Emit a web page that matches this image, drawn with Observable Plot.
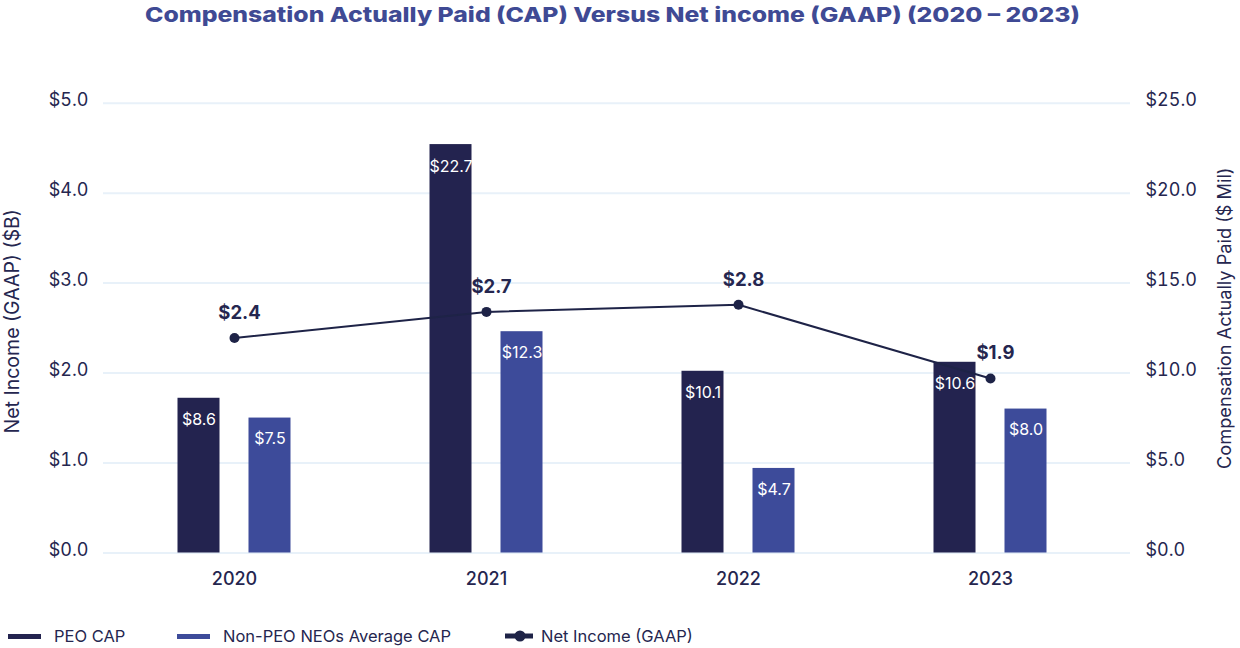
<!DOCTYPE html>
<html>
<head>
<meta charset="utf-8">
<script src="https://cdn.jsdelivr.net/npm/d3@7"></script>
<script src="https://cdn.jsdelivr.net/npm/@observablehq/plot@0.6"></script>
<style>
  html, body { margin: 0; padding: 0; background: #fff; }
  body { width: 1240px; height: 648px; position: relative; overflow: hidden; font-family: Inter, "Noto Sans", sans-serif; }
  #title { position: absolute; left: 145px; top: 0; height: 32px; line-height: 30px; white-space: nowrap;
           font-size: 20.5px; font-weight: 800; color: #3f4a94; transform-origin: 0 50%; }
  #chart { position: absolute; left: 0; top: 32px; }
  .leg { position: absolute; top: 625px; height: 22px; display: flex; align-items: center; font-size: 16.5px; color: #25264f; }
  .sw { display: inline-block; height: 5px; margin-right: 13px; }
</style>
</head>
<body>
<div id="title">Compensation Actually Paid (CAP) Versus Net income (GAAP) (2020 – 2023)</div>
<div id="chart"></div>
<div class="leg" style="left:8px"><span class="sw" style="width:33px;background:#23234f"></span>PEO CAP</div>
<div class="leg" style="left:177px"><span class="sw" style="width:33px;background:#3d4b9a"></span>Non-PEO NEOs Average CAP</div>
<div class="leg" style="left:505px"><svg width="28" height="12" style="margin-right:8px"><line x1="0" x2="28" y1="6" y2="6" stroke="#1e2347" stroke-width="5"/><circle cx="15" cy="6" r="5.5" fill="#1e2347"/></svg>Net Income (GAAP)</div>
<script>
// ---- data ----
const years = ["2020", "2021", "2022", "2023"];
const peoCap = [8.6, 22.7, 10.1, 10.6];          // $ Mil
const nonPeoCap = [7.5, 12.3, 4.7, 8.0];          // $ Mil
const netIncome = [2.39, 2.68, 2.76, 1.94];       // $ B
const leftTicks = [0, 1, 2, 3, 4, 5];
const capPerNetIncome = 5;                         // right axis 0–25 maps to left 0–5

const peoColor = "#23234f";
const nonPeoColor = "#3d4b9a";
const lineColor = "#1e2347";
const textColor = "#25264f";

const peoData = years.map((y, i) => ({year: y, cap: peoCap[i]}));
const nonData = years.map((y, i) => ({year: y, cap: nonPeoCap[i]}));
const niData = years.map((y, i) => ({year: y, ni: netIncome[i]}));

const fmt1 = d => "$" + d.toFixed(1);
const barInset = 105;

const plot = Plot.plot({
  width: 1240,
  height: 568,
  marginTop: 71,
  marginBottom: 47.5,
  marginLeft: 103,
  marginRight: 110,
  style: {fontFamily: "Inter, 'Noto Sans', sans-serif", color: textColor, background: "transparent"},
  x: {type: "band", domain: years, range: [106.7, 1117.3], padding: 0},
  y: {domain: [0, 5], range: [520.5, 70.7]},
  marks: [
    Plot.gridY(leftTicks, {stroke: "#e8f1f9", strokeOpacity: 1, strokeWidth: 2}),
    Plot.axisY(leftTicks, {anchor: "left", tickSize: 0, tickPadding: 15, tickFormat: fmt1, fontSize: 18, dy: -3, label: null}),
    Plot.axisY(leftTicks, {anchor: "right", tickSize: 0, tickPadding: 15, tickFormat: d => fmt1(d * capPerNetIncome), fontSize: 18, dy: -3, label: null}),
    Plot.axisX(years, {anchor: "bottom", tickSize: 0, tickPadding: 19, fontSize: 18, fontWeight: 500, label: null}),
    Plot.text(["Net Income (GAAP) ($B)"], {frameAnchor: "left", textAnchor: "middle", dx: -91, dy: -7, rotate: -90, fontSize: 19.5, fill: textColor}),
    Plot.text(["Compensation Actually Paid ($ Mil)"], {frameAnchor: "right", textAnchor: "middle", dx: 95, dy: -10, rotate: -90, fontSize: 18.2, fill: textColor}),
    Plot.barY(peoData, {x: "year", y: d => d.cap / capPerNetIncome, fill: peoColor, insetLeft: barInset, insetRight: barInset, dx: -35.5}),
    Plot.barY(nonData, {x: "year", y: d => d.cap / capPerNetIncome, fill: nonPeoColor, insetLeft: barInset, insetRight: barInset, dx: 35.5}),
    Plot.text(peoData, {x: "year", y: d => d.cap / capPerNetIncome, text: d => fmt1(d.cap), dx: -35.5, dy: 22, fill: "white", fontSize: 16}),
    Plot.text(nonData, {x: "year", y: d => d.cap / capPerNetIncome, text: d => fmt1(d.cap), dx: 35.5, dy: 21, fill: "white", fontSize: 16}),
    Plot.line(niData, {x: "year", y: "ni", stroke: lineColor, strokeWidth: 2}),
    Plot.dot(niData, {x: "year", y: "ni", r: 5, fill: lineColor}),
    Plot.text(niData, {x: "year", y: "ni", text: d => fmt1(d.ni), dx: 5, dy: -25, fill: textColor, fontSize: 18.5, fontWeight: 700})
  ]
});
document.getElementById("chart").appendChild(plot);

// stretch title to the reference's width
const t = document.getElementById("title");
const w = t.getBoundingClientRect().width;
t.style.transform = `scaleX(${935 / w})`;
</script>
</body>
</html>
